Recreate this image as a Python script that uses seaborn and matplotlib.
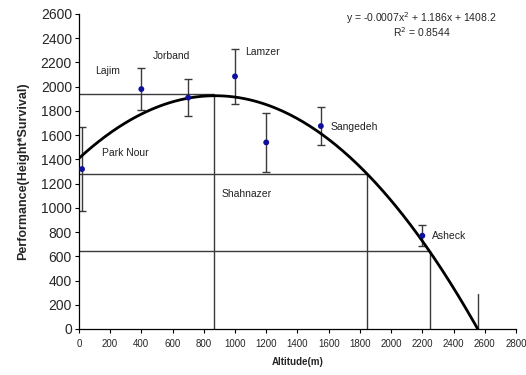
import numpy as np
import pandas as pd
import seaborn as sns
import matplotlib.pyplot as plt

# provenances: altitude, performance and error bar half widths
sites = ['Park Nour', 'Lajim', 'Jorband', 'Lamzer', 'Shahnazer', 'Sangedeh', 'Asheck']
altitude = [20, 400, 700, 1000, 1200, 1550, 2200]
performance = [1320, 1980, 1910, 2085, 1540, 1675, 770]
error = [345, 175, 155, 225, 245, 160, 85]

# label positions (text anchor, data units)
label_x = [145, 103, 476, 1064, 915, 1615, 2261]
label_y = [1450, 2132, 2253, 2290, 1114, 1667, 770]

# quadratic trend line y = a x^2 + b x + c, drawn up to where it reaches zero
trend_coef = [-0.00068, 1.186, 1408.2]
trend_end = 2555

# guide lines (corner x, corner y)
guide_x = [865, 1845, 2250]
guide_y = [1940, 1280, 640]
end_mark_x = 2555
end_mark_y = 290

df = pd.DataFrame({'Site': sites, 'Altitude': altitude,
                   'Performance': performance, 'Error': error})

sns.set_style('ticks')
plt.rcParams['font.family'] = ['Liberation Sans', 'DejaVu Sans']

fig = plt.figure(figsize=(5.26, 3.75), dpi=100)
ax = fig.add_axes([0.150, 0.1227, 0.831, 0.84])

tx = np.linspace(0, trend_end, 300)
trend = pd.DataFrame({'Altitude': tx, 'Performance': np.polyval(trend_coef, tx)})

# guide lines
for gx, gy in zip(guide_x, guide_y):
    ax.plot([0, gx, gx], [gy, gy, 0], color='#3a3a3a', lw=1.0, zorder=1)
ax.plot([end_mark_x, end_mark_x], [0, end_mark_y], color='#3a3a3a', lw=1.0, zorder=1)

sns.lineplot(data=trend, x='Altitude', y='Performance', color='black', lw=2, ax=ax, zorder=3)

ax.errorbar(df['Altitude'], df['Performance'], yerr=df['Error'], fmt='none',
            ecolor='#3a3a3a', elinewidth=1.0, capsize=3, capthick=1.0, zorder=2)
sns.scatterplot(data=df, x='Altitude', y='Performance', color='#10109a',
                s=18, marker='o', edgecolor='none', ax=ax, zorder=4)

for name, lx, ly in zip(sites, label_x, label_y):
    ax.text(lx, ly, name, fontsize=7.5, va='center', ha='left', color='#222222')

ax.text(2196, 2570, 'y = -0.0007x$^2$ + 1.186x + 1408.2', fontsize=7.5, ha='center', va='center')
ax.text(2196, 2450, 'R$^2$ = 0.8544', fontsize=7.5, ha='center', va='center')

ax.set_xlim(0, 2800)
ax.set_ylim(0, 2600)
ax.set_xticks(range(0, 2801, 200))
ax.set_yticks(range(0, 2601, 200))
ax.tick_params(axis='x', labelsize=7, length=3, width=0.8, color='black', pad=4)
ax.tick_params(axis='y', labelsize=10, length=3, width=0.8, color='black', pad=2)
for s in ['left', 'bottom']:
    ax.spines[s].set_color('black')
    ax.spines[s].set_linewidth(0.9)
sns.despine(ax=ax)

ax.set_xlabel('Altitude(m)', fontsize=7, fontweight='bold', labelpad=6)
ax.set_ylabel('Performance(Height*Survival)', fontsize=9, fontweight='bold', labelpad=8)

fig.savefig('out.png', dpi=100)
